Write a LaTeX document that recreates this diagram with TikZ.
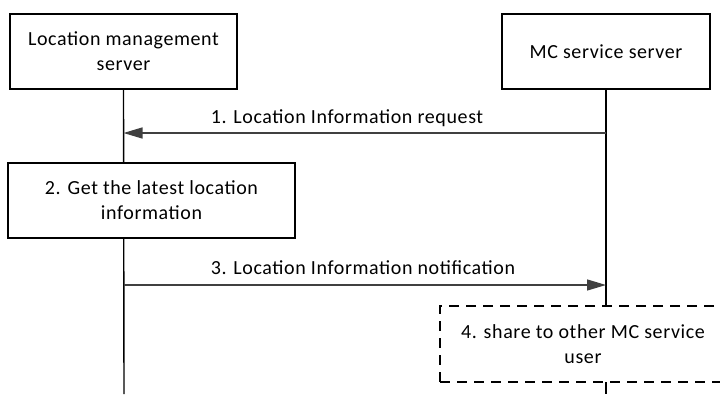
\documentclass[tikz,border=0pt]{standalone}
\usepackage{fontspec}
\setmainfont{Carlito}[LetterSpace=3]
\usetikzlibrary{arrows.meta}
\begin{document}
\begin{tikzpicture}[x=1pt,y=-1pt,
  entity/.style={draw=black,line width=1.4pt,fill=white,minimum width=#1,minimum height=75pt,align=center,inner sep=0pt,font=\fontsize{20}{25}\selectfont},
  dbox/.style={draw=black,line width=1.4pt,fill=white,dash pattern=on 10pt off 7pt,minimum width=#1,minimum height=76pt,align=center,inner sep=0pt,font=\fontsize{20}{25}\selectfont},
  life/.style={draw=black,line width=1.4pt},
  msg/.style={draw=black!75,line width=1.3pt,-{Triangle[length=19pt,width=11pt]}},
  lbl/.style={font=\fontsize{20}{25}\selectfont,inner sep=0pt}]
\useasboundingbox (0,0) rectangle (720,394);
\clip (0,0) rectangle (720,394);
\node[entity=227pt] (A) at (123.5,51.5) {Location management\\server};
\node[entity=208pt] (B) at (606,51.5) {MC service server};
\coordinate (Aend) at (124,394);
\coordinate (Bend) at (606,394);
\draw[life] (A.south) -- (Aend);
\draw[life] (B.south) -- (Bend);
\node[entity=287pt] (S2) at (151.5,200.5) {2. Get the latest location\\information};
\node[dbox=286pt] (S4) at (583,344) {4. share to other MC service\\user};
\draw[msg] (B.south |- 0,133) -- (A.south |- 0,133);
\node[lbl] (L1) at (347,118) {1. Location Information request};
\draw[msg] (A.south |- 0,285) -- (B.south |- 0,285);
\node[lbl] (L3) at (363,268) {3. Location Information notification};
\end{tikzpicture}
\end{document}
